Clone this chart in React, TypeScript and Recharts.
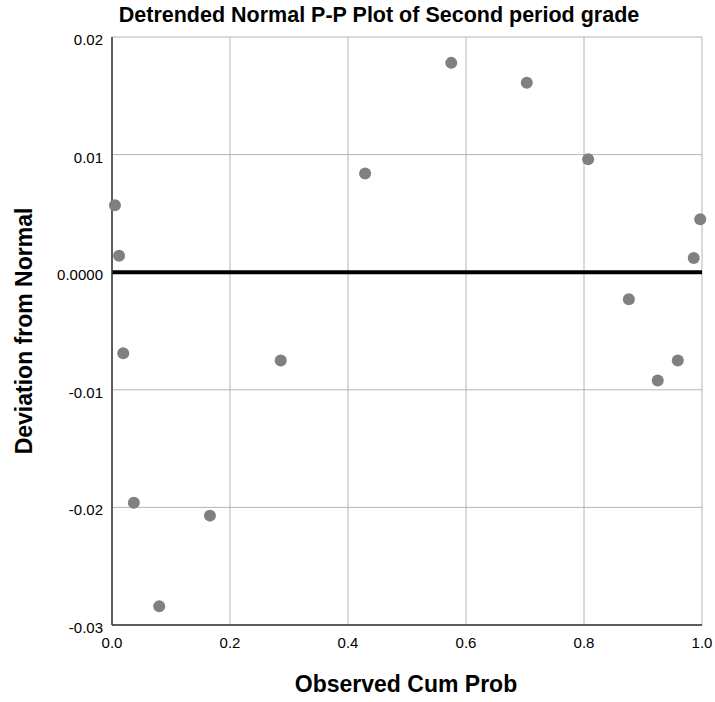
import React from "react";
import {
  ScatterChart,
  Scatter,
  XAxis,
  YAxis,
  CartesianGrid,
  ReferenceLine,
} from "recharts";

// Observed cumulative probability (x) and deviation from normal (y)
const observedCumProb = [
  0.005, 0.012, 0.019, 0.037, 0.08, 0.166, 0.286, 0.429, 0.575, 0.703, 0.807,
  0.876, 0.925, 0.959, 0.986, 0.997,
];
const deviation = [
  0.0057, 0.0014, -0.0069, -0.0196, -0.0284, -0.0207, -0.0075, 0.0084, 0.0178,
  0.0161, 0.0096, -0.0023, -0.0092, -0.0075, 0.0012, 0.0045,
];
const xTicks = [0, 0.2, 0.4, 0.6, 0.8, 1.0];
const yTicks = [-0.03, -0.02, -0.01, 0, 0.01, 0.02];

const points = observedCumProb.map((x, i) => ({ x, y: deviation[i] }));

const FONT = "'Liberation Sans', Arial, sans-serif";

const Dot = (props: any) => (
  <circle cx={props.cx} cy={props.cy} r={6} fill="#808080" />
);

// y tick labels sit slightly below their gridline, like SPSS draws them
const YTick = (props: any) => {
  const v = props.payload.value;
  const label = v === 0 ? "0.0000" : v.toFixed(2);
  return (
    <text
      x={props.x}
      y={props.y + 8}
      textAnchor="end"
      fontFamily={FONT}
      fontSize={15}
      fill="#000"
    >
      {label}
    </text>
  );
};

const labelStyle = {
  fontFamily: FONT,
  fontWeight: "bold" as const,
  fill: "#000",
};

export default function App() {
  return (
    <div style={{ position: "absolute", left: 0, top: 0, fontFamily: FONT }}>
      <ScatterChart
        width={715}
        height={702}
        margin={{ top: 37, right: 13, bottom: 0, left: 0 }}
      >
        <text x={379} y={22} textAnchor="middle" fontSize={21.5} {...labelStyle}>
          Detrended Normal P-P Plot of Second period grade
        </text>
        <text
          transform="translate(32,331) rotate(-90)"
          textAnchor="middle"
          fontSize={23}
          {...labelStyle}
        >
          Deviation from Normal
        </text>
        <text x={406} y={692} textAnchor="middle" fontSize={23} {...labelStyle}>
          Observed Cum Prob
        </text>
        <CartesianGrid stroke="#b4b4b4" strokeWidth={1} />
        <XAxis
          type="number"
          dataKey="x"
          domain={[0, 1]}
          ticks={xTicks}
          tickFormatter={(v: number) => v.toFixed(1)}
          height={77}
          tickLine={false}
          axisLine={{ stroke: "#333", strokeWidth: 1.5 }}
          tick={{ fill: "#000", fontSize: 15, fontFamily: FONT }}
          tickMargin={6}
        />
        <YAxis
          type="number"
          dataKey="y"
          domain={[-0.03, 0.02]}
          ticks={yTicks}
          width={112}
          tickLine={false}
          axisLine={{ stroke: "#333", strokeWidth: 1.5 }}
          tick={<YTick />}
          tickMargin={3}
        />
        <ReferenceLine y={0} stroke="#000" strokeWidth={4} />
        <Scatter data={points} shape={Dot} isAnimationActive={false} />
      </ScatterChart>
    </div>
  );
}
